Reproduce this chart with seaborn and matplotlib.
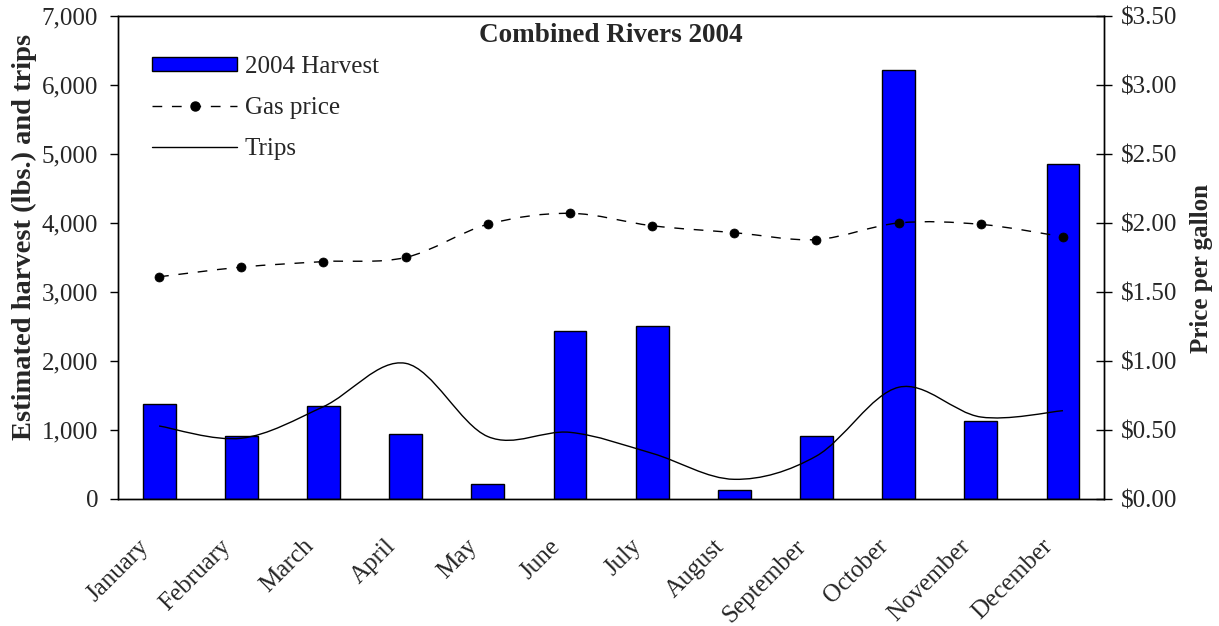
import numpy as np
import pandas as pd
import matplotlib
matplotlib.use("Agg")
import matplotlib.pyplot as plt
from matplotlib.path import Path
from matplotlib.patches import PathPatch, Patch
from matplotlib.lines import Line2D
import seaborn as sns

months = ["January", "February", "March", "April", "May", "June", "July",
          "August", "September", "October", "November", "December"]
harvest = [1377, 913, 1350, 942, 217, 2435, 2507, 130, 913, 6217, 1130, 4855]
gas_price = [1.61, 1.68, 1.72, 1.75, 1.99, 2.07, 1.98, 1.93, 1.88, 2.00, 1.99, 1.90]
trips = [1058, 880, 1338, 1966, 905, 966, 662, 285, 623, 1619, 1188, 1280]

title = "Combined Rivers 2004"
left_label = "Estimated harvest (lbs.) and trips"
right_label = "Price per gallon"
left_ticks = [0, 1000, 2000, 3000, 4000, 5000, 6000, 7000]
right_ticks = [0.0, 0.5, 1.0, 1.5, 2.0, 2.5, 3.0, 3.5]

sns.set_style("white")
plt.rcParams["font.family"] = ["Liberation Serif", "DejaVu Serif"]

df = pd.DataFrame({"month": months, "harvest": harvest,
                   "gas": gas_price, "trips": trips})

fig = plt.figure(figsize=(12.19, 6.26), dpi=100)
ax = fig.add_axes([0.0968, 0.2029, 0.8089, 0.7716])

sns.barplot(data=df, x="month", y="harvest", ax=ax, color="#0000ff",
            saturation=1, width=0.4, edgecolor="black", linewidth=1)


def smooth_path(xs, ys):
    # Excel-style smoothed line: cubic Bezier segments through the points
    pts = np.column_stack([xs, ys]).astype(float)
    n = len(pts)
    verts = [pts[0]]
    codes = [Path.MOVETO]
    for i in range(n - 1):
        p0 = pts[i - 1] if i > 0 else pts[i]
        p1 = pts[i]
        p2 = pts[i + 1]
        p3 = pts[i + 2] if i + 2 < n else pts[i + 1]
        c1 = p1 + (p2 - p0) / 6.0
        c2 = p2 - (p3 - p1) / 6.0
        verts += [c1, c2, p2]
        codes += [Path.CURVE4] * 3
    return Path(verts, codes)


xpos = np.arange(len(months))
ax.add_patch(PathPatch(smooth_path(xpos, trips), fill=False,
                       edgecolor="black", linewidth=1.0, zorder=3))

ax.set_xlim(-0.5, len(months) - 0.5)
ax.set_ylim(0, 7000)
ax.set_yticks(left_ticks)
ax.set_yticklabels([f"{v:,}" for v in left_ticks], fontsize=18)
# invisible major ticks carry the rotated month labels (nudged left as in the original)
ax.set_xticks(xpos - 0.26)
ax.set_xticklabels(months, rotation=45, ha="right", rotation_mode="anchor",
                   fontsize=18)
ax.set_xticks(np.arange(-0.5, len(months), 1.0), minor=True)
ax.tick_params(axis="x", which="major", length=0, pad=26)
ax.tick_params(axis="x", which="minor", length=8, width=1, direction="out",
               color="black")
ax.tick_params(axis="y", length=6, width=1, direction="out", color="black",
               left=True, pad=8.3)
ax.set_xlabel("")
ax.set_ylabel(left_label, fontsize=20.5, fontweight="bold")
ax.yaxis.set_label_coords(-0.082, 0.542)
for s in ax.spines.values():
    s.set_color("black")
    s.set_linewidth(1)

ax2 = ax.twinx()
ax2.set_ylim(0, 3.5)
ax2.add_patch(PathPatch(smooth_path(xpos, gas_price), fill=False,
                        edgecolor="black", linewidth=1.0, linestyle=(0, (7, 7)),
                        zorder=3))
sns.scatterplot(x=xpos, y=gas_price, ax=ax2, color="black", s=42,
                edgecolor="black", zorder=4, legend=False)
ax2.set_xlim(-0.5, len(months) - 0.5)
ax2.set_yticks(right_ticks)
ax2.set_yticklabels([f"${v:.2f}" for v in right_ticks], fontsize=18)
ax2.tick_params(axis="y", length=12, width=1, direction="inout",
                color="black", right=True, pad=6)
ax2.set_ylabel(right_label, fontsize=18, fontweight="bold")
ax2.yaxis.set_label_coords(1.087, 0.478)
for s in ax2.spines.values():
    s.set_color("black")
    s.set_linewidth(1)

ax2.text(0.5, 0.985, title, transform=ax2.transAxes, ha="center", va="top",
         fontsize=19.5, fontweight="bold")

handles = [
    Patch(facecolor="#0000ff", edgecolor="black", linewidth=1),
    Line2D([], [], color="black", linestyle=(0, (7, 7)), linewidth=1,
           marker="o", markersize=6.5),
    Line2D([], [], color="black", linewidth=1),
]
labels = ["2004 Harvest", "Gas price", "Trips"]
ax2.legend(handles, labels, loc="upper left", bbox_to_anchor=(0.0345, 0.918),
           frameon=False, fontsize=18, handlelength=3.4, handleheight=0.5,
           handletextpad=0.3, labelspacing=0.77, borderaxespad=0, borderpad=0)

fig.savefig("out.png", dpi=100)
